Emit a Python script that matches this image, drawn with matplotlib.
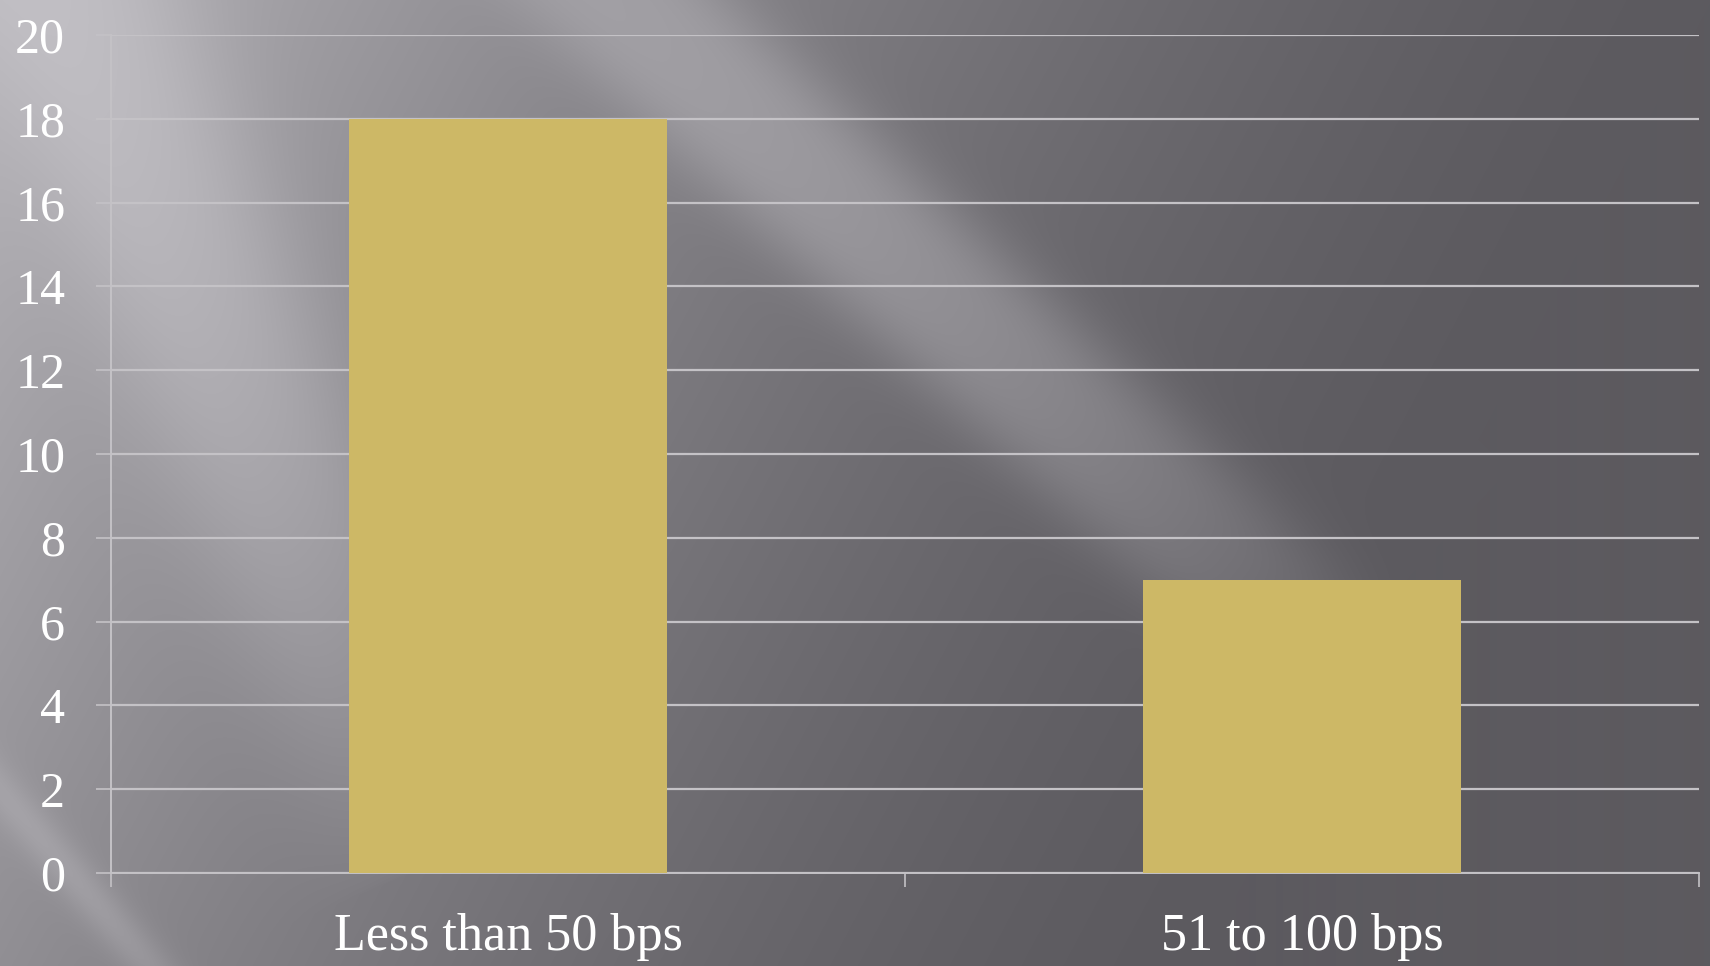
import numpy as np
import matplotlib
matplotlib.use("Agg")
import matplotlib.pyplot as plt
import matplotlib.transforms as mtransforms

# Chart data
categories = ["Less than 50 bps", "51 to 100 bps"]
values = [18, 7]
y_ticks = [0, 2, 4, 6, 8, 10, 12, 14, 16, 18, 20]

W, H = 1710, 966
DPI = 100
BAR_COLOR = "#CDB866"
GRID_COLOR = "#C4C2C6"
TEXT_COLOR = "white"
FONT = ["Liberation Serif", "DejaVu Serif"]

fig = plt.figure(figsize=(W / DPI, H / DPI), dpi=DPI)

# Slide-style backdrop: grey gradient with soft diagonal light streaks
yy, xx = np.mgrid[0:H, 0:W].astype(float)
xn, yn = xx / W, yy / H
base = 92 + 90 * np.clip(1 - (1.0 * xn + 0.30 * yn), 0, 1) ** 1.5


def streak(x0, y0, x1, y1, width, amp, power=2.0):
    dx, dy = x1 - x0, y1 - y0
    n = np.hypot(dx, dy)
    ux, uy = dx / n, dy / n
    px, py = xx - x0, yy - y0
    along = px * ux + py * uy
    perp = px * uy - py * ux
    g = amp * np.exp(-np.abs(perp / width) ** power)
    t = np.clip(along / n, 0, 1)
    g *= np.where((along >= 0) & (along <= n), np.sin(np.pi * t) ** 0.5, 0)
    return g


light = np.zeros_like(base)
light += streak(490, -120, 1330, 660, 80, 34, 3.0)
light += streak(20, -140, 440, 860, 110, 24, 2.5)
light += streak(-60, 720, 230, 1060, 22, 18)
img = np.clip(base + light, 0, 255)
rgb = np.stack([img, img - 2, img + 3], axis=-1) / 255.0
rgb = np.clip(rgb, 0, 1)

bg = fig.add_axes([0, 0, 1, 1], zorder=-10)
bg.imshow(rgb, aspect="auto", extent=[0, W, H, 0], interpolation="bilinear")
bg.axis("off")

ax = fig.add_axes([111 / W, 1 - 873 / H, (1699 - 111) / W, (873 - 35) / H])
ax.set_facecolor("none")

x = np.arange(len(categories))
ax.bar(x, values, width=0.4, color=BAR_COLOR, zorder=3)

ax.set_xlim(-0.5, len(categories) - 0.5)
ax.set_ylim(0, 20)
ax.set_yticks(y_ticks)
ax.set_yticklabels([str(v) for v in y_ticks], fontsize=36, family=FONT, color=TEXT_COLOR)
ax.yaxis.grid(True, color=GRID_COLOR, linewidth=1.6, zorder=1)
ax.set_axisbelow(True)

# nudge the value labels slightly upward
shift = mtransforms.ScaledTranslation(0, 3 / DPI, fig.dpi_scale_trans)
for lbl in ax.get_yticklabels():
    lbl.set_transform(lbl.get_transform() + shift)

ax.set_xticks(x)
ax.set_xticklabels(categories, fontsize=37.5, family=FONT, color=TEXT_COLOR)
ax.set_xticks(np.arange(-0.5, len(categories), 1.0), minor=True)

ax.tick_params(axis="y", which="major", length=11, width=1.2, color=GRID_COLOR, pad=22)
ax.tick_params(axis="x", which="major", length=0, pad=29)
ax.tick_params(axis="x", which="minor", length=10, width=1.2, color=GRID_COLOR)

for side in ("top", "right"):
    ax.spines[side].set_visible(False)
for side in ("left", "bottom"):
    ax.spines[side].set_color(GRID_COLOR)
    ax.spines[side].set_linewidth(1.4)

fig.savefig("out.png", dpi=DPI)
